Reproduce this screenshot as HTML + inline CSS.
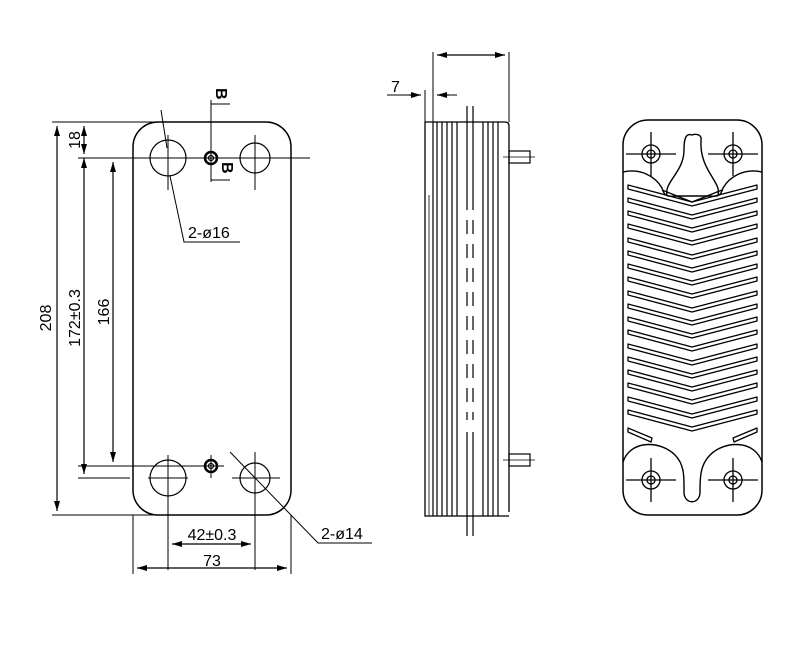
<!DOCTYPE html>
<html><head><meta charset="utf-8"><style>
html,body{margin:0;padding:0;background:#fff}
svg{display:block}
text{font-family:"Liberation Sans",sans-serif;font-size:16px;fill:#000}
</style></head><body>
<svg width="791" height="650" viewBox="0 0 791 650" xmlns="http://www.w3.org/2000/svg">
<defs>
<marker id="a" viewBox="0 0 10 6" refX="10" refY="3" markerWidth="10" markerHeight="6" orient="auto-start-reverse" markerUnits="userSpaceOnUse"><path d="M0,0 L10,3 L0,6 Z" fill="#000"/></marker>
<path id="slot" d="M628,0 L692,17 L757,0 L757,4 L692,21 L628,4 Z" fill="none" stroke="#000" stroke-width="1.3" stroke-linejoin="round"/>
<g id="port"><circle r="9" fill="none" stroke="#000" stroke-width="1.3"/><circle r="4" fill="none" stroke="#000" stroke-width="1.3"/><path d="M-25,0H25M0,-22V22" stroke="#000" stroke-width="1.3"/></g>
</defs>
<g fill="none" stroke="#000" stroke-width="1.2">
<!-- front view -->
<rect x="133" y="122" width="158" height="393" rx="25" ry="25" stroke-width="1.5"/>
<circle cx="168" cy="158" r="18"/><circle cx="255" cy="158" r="15"/>
<circle cx="168" cy="478" r="18"/><circle cx="255" cy="478" r="15"/>
<circle cx="211" cy="158" r="6" stroke-width="2.5"/><circle cx="211" cy="158" r="2.5"/>
<circle cx="211" cy="466" r="6" stroke-width="2.5"/><circle cx="211" cy="466" r="2.5"/>
<path d="M78,158H310M168,135V190M255,135V190M211,100V182M211,104H230M211,180H230" stroke-width="1"/>
<path d="M78,466H224M78,478H130M148,478H188M232,478H280M168,455V570M255,452V570M211,455V478" stroke-width="1"/>
<path d="M133,515V574M291,515V574M52,122H160M52,515H180" stroke-width="1"/>
<path d="M57,126V511" marker-start="url(#a)" marker-end="url(#a)"/>
<path d="M84,158V474" marker-start="url(#a)" marker-end="url(#a)"/>
<path d="M113,162V462" marker-start="url(#a)" marker-end="url(#a)"/>
<path d="M84,126V154" marker-start="url(#a)" marker-end="url(#a)"/>
<path d="M172,544H251" marker-start="url(#a)" marker-end="url(#a)"/>
<path d="M137,568H287" marker-start="url(#a)" marker-end="url(#a)"/>
<path d="M161,110L167,148M170,176L184,242H240" stroke-width="1"/>
<path d="M230,452L318,543H372" stroke-width="1"/>
<!-- side view -->
<path d="M425,122V516H509M425,122H505Q509,122 509,126V512" stroke-width="1.3"/>
<path d="M433,122V52M509,122V52M425,122V90" stroke-width="1"/>
<path d="M437,55H505" marker-start="url(#a)" marker-end="url(#a)"/>
<path d="M387,95H421M437,95H457" stroke-width="1"/>
<path d="M409,95H421" marker-end="url(#a)"/><path d="M449,95H437" marker-end="url(#a)"/>
<path d="M433,122V516M437,122V516M442,122V516M447,122V516M452,122V516M457,122V516M483,122V516M488,122V516M493,122V516M498,122V516"/>
<path d="M467,106V210M473,106V210M467,432V536M473,432V536" />
<path d="M467,220V420M473,220V420" stroke-dasharray="14,10"/>
<path d="M429,195V516" stroke-width="0.8"/>
<rect x="509" y="151" width="21" height="12"/><rect x="509" y="454" width="21" height="12"/>
<path d="M503,157H535M503,460H535" stroke-width="0.8"/>
<!-- right view -->
<rect x="623" y="120" width="139" height="395" rx="25" ry="25" stroke-width="1.5"/>
<path d="M623,172 C640,168 655,176 662,188 C664,196 668,197 675,196 L710,196 C717,197 721,196 723,188 C730,176 745,168 762,172" stroke-width="1.4"/>
<path d="M667,195 C664,182 684,172 684,150 C684,138 686,133 692,135 C698,133 702,136 701,140 C699,170 722,182 718,195" stroke-width="1.4"/>
<path d="M662,190 L692,202 L722,190" stroke-width="1.3"/>
<path d="M623,462 C630,440 660,440 675,455 C685,465 684,478 684,492 C684,505 700,505 700,492 C700,478 700,465 710,455 C725,440 755,440 762,462" stroke-width="1.4"/>
<path d="M628,428 L652,438 L651,442 L628,432 Z M757,428 L733,438 L734,442 L757,432 Z" stroke-width="1.3" stroke-linejoin="round"/>
</g>
<use href="#slot" y="185"/><use href="#slot" y="198"/><use href="#slot" y="211"/><use href="#slot" y="224"/>
<use href="#slot" y="238"/><use href="#slot" y="251"/><use href="#slot" y="264"/><use href="#slot" y="277"/>
<use href="#slot" y="291"/><use href="#slot" y="304"/><use href="#slot" y="317"/><use href="#slot" y="330"/>
<use href="#slot" y="344"/><use href="#slot" y="357"/><use href="#slot" y="370"/><use href="#slot" y="383"/>
<use href="#slot" y="397"/><use href="#slot" y="410"/>
<use href="#port" x="651" y="154"/><use href="#port" x="733" y="154"/>
<use href="#port" x="651" y="480"/><use href="#port" x="733" y="480"/>
<!-- texts -->
<text transform="translate(51,318) rotate(-90)" text-anchor="middle">208</text>
<text transform="translate(80,318) rotate(-90)" text-anchor="middle">172±0.3</text>
<text transform="translate(109,312) rotate(-90)" text-anchor="middle">166</text>
<text transform="translate(80,140) rotate(-90)" text-anchor="middle">18</text>
<text x="212" y="540" text-anchor="middle">42±0.3</text>
<text x="212" y="566" text-anchor="middle">73</text>
<text x="188" y="238">2-ø16</text>
<text x="321" y="539">2-ø14</text>
<text x="391" y="92">7</text>
<text transform="translate(216,88) rotate(90)" font-weight="bold">B</text>
<text transform="translate(222,162) rotate(90)" font-weight="bold">B</text>
</svg>
</body></html>
